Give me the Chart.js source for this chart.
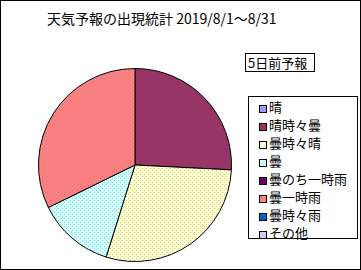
<!DOCTYPE html>
<html lang="ja">
<head>
  <meta charset="UTF-8">
  <title>天気予報の出現統計</title>
  <script src="https://cdn.jsdelivr.net/npm/chart.js"></script>
  <style>
    body {
      margin: 0;
      font-family: "Noto Sans CJK JP", "Noto Sans", sans-serif;
      background: #fff;
    }

    .frame {
      position: relative;
      width: 361px;
      height: 270px;
      box-sizing: border-box;
      border: 1px solid #000;
      overflow: hidden;
    }

    .title {
      position: absolute;
      left: 46px;
      top: 7px;
      font-size: 14px;
      line-height: 20px;
      white-space: nowrap;
    }

    .pie-box {
      position: absolute;
      left: 37px;
      top: 67px;
      width: 194px;
      height: 194px;
    }

    .sub {
      position: absolute;
      left: 244px;
      top: 52px;
      width: 66px;
      height: 17px;
      border: 1px solid #000;
      font-size: 13px;
      line-height: 17px;
      padding-left: 2px;
      box-sizing: content-box;
    }

    .legend {
      position: absolute;
      left: 247px;
      top: 95px;
      width: 110px;
      height: 143px;
      border: 1px solid #000;
      box-sizing: border-box;
      padding-top: 1px;
    }

    .legend div {
      height: 18px;
      line-height: 18px;
      font-size: 13px;
      white-space: nowrap;
    }

    .legend span {
      display: inline-block;
      width: 6px;
      height: 6px;
      border: 1px solid #000;
      margin-left: 10px;
      margin-right: 2px;
      vertical-align: -1px;
    }
  </style>
</head>
<body>
  <div class="frame">
    <div class="title">天気予報の出現統計 2019/8/1～8/31</div>
    <div class="pie-box"><canvas id="pieChart"></canvas></div>
    <div class="sub">5日前予報</div>
    <div class="legend" id="legend"></div>
  </div>

  <script>
    // 予報の種類と日数 (8/1～8/31)
    const categories = ["晴", "晴時々曇", "曇時々晴", "曇", "曇のち一時雨", "曇一時雨", "曇時々雨", "その他"];
    const days = [0, 8, 9, 4, 0, 10, 0, 0];
    const colors = ["#9999FF", "#993366", "#FFFFCC", "#CCFFFF", "#660066", "#FF8080", "#0066CC", "#CCCCFF"];

    // small dotted fill like the old spreadsheet charts
    function dotted(color) {
      const c = document.createElement("canvas");
      c.width = 4;
      c.height = 4;
      const g = c.getContext("2d");
      g.fillStyle = color;
      g.fillRect(0, 0, 4, 4);
      g.fillStyle = "rgba(110,110,110,0.35)";
      g.fillRect(0, 0, 1, 1);
      g.fillRect(2, 2, 1, 1);
      return g.createPattern(c, "repeat");
    }

    // legend
    const legend = document.getElementById("legend");
    categories.forEach((name, i) => {
      const row = document.createElement("div");
      row.innerHTML = `<span style="background:${colors[i]}"></span>${name}`;
      legend.appendChild(row);
    });

    new Chart(document.getElementById("pieChart"), {
      type: "pie",
      data: {
        labels: categories,
        datasets: [{
          data: days,
          backgroundColor: colors.map(dotted),
          borderColor: "#000",
          borderWidth: 1
        }]
      },
      options: {
        responsive: true,
        maintainAspectRatio: false,
        animation: false,
        layout: { padding: 0 },
        plugins: {
          legend: { display: false },
          tooltip: { enabled: false }
        }
      }
    });
  </script>
</body>
</html>
